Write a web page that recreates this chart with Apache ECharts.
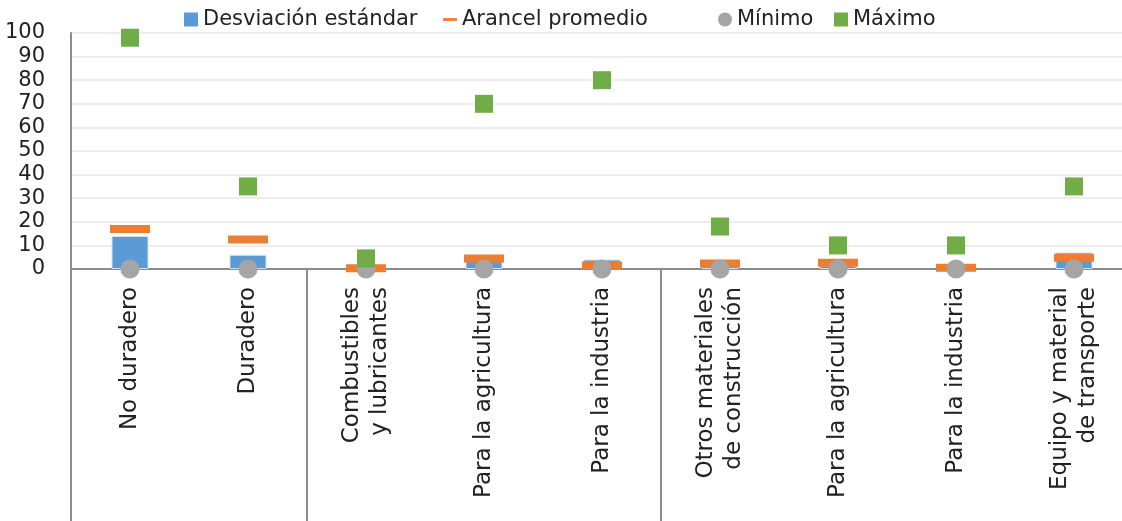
<!DOCTYPE html>
<html>
<head>
<meta charset="utf-8">
<script src="https://cdn.jsdelivr.net/npm/echarts@6/dist/echarts.min.js"></script>
<style>
  html, body { margin: 0; padding: 0; background: #fff; overflow: hidden; }
  /* el área del gráfico continúa un poco más allá del borde derecho (imagen recortada) */
  #chart { width: 1133px; height: 521px; }
</style>
</head>
<body>
<div id="chart"></div>
<script>
// categorías (eje x)
var categories = [
  "No duradero", "Duradero", "Combustibles\ny lubricantes",
  "Para la agricultura", "Para la industria", "Otros materiales\nde construcción",
  "Para la agricultura", "Para la industria", "Equipo y material\nde transporte"
];
// series
var seriesNames = ["Desviación estándar", "Arancel promedio", "Mínimo", "Máximo"];
var desviacion = [14, 6, 0, 3.5, 4, 1.5, 1.5, 0.5, 7];
var promedio = [17, 12.5, 0.3, 4.5, 1.5, 2.3, 2.7, 0.5, 4.8];
var minimo = [0, 0, 0, 0, 0, 0, 0, 0, 0];
var maximo = [98, 35, 4.5, 70, 80, 18, 10, 10, 35];
// límites de grupo (índices donde empieza cada grupo)
var groupStarts = [0, 2, 5];

var FONT = "DejaVu Sans";
var axisGray = "#8c8c8c";

var myChart = echarts.init(document.getElementById("chart"), null, { renderer: "canvas" });

// una leyenda por serie, para colocar cada elemento donde está en el original
var legendIcons = ["rect", "path://M0,0h20v4h-20z", "circle", "rect"];
var legendLeft = [184, 443, 718, 834];
var legends = seriesNames.map(function (name, i) {
  return {
    top: 9,
    left: legendLeft[i],
    padding: 0,
    itemWidth: 14,
    itemHeight: 14,
    itemStyle: { borderWidth: 0 },
    textStyle: { fontFamily: FONT, fontSize: 21, color: "#222" },
    data: [{ name: name, icon: legendIcons[i] }]
  };
});

var option = {
  animation: false,
  textStyle: { fontFamily: FONT, color: "#222" },
  legend: legends,
  grid: { left: 71, right: 0, top: 33, bottom: 252, containLabel: false },
  xAxis: {
    type: "category",
    data: categories,
    boundaryGap: true,
    axisLine: { lineStyle: { color: axisGray, width: 2 } },
    axisTick: {
      show: true,
      length: 252,
      interval: function (index) { return groupStarts.indexOf(index) >= 0; },
      lineStyle: { color: axisGray, width: 2 }
    },
    axisLabel: {
      interval: 0,
      rotate: 90,
      margin: 18,
      fontSize: 23,
      lineHeight: 28,
      color: "#222",
      fontFamily: FONT
    }
  },
  yAxis: {
    type: "value",
    min: 0,
    max: 100,
    interval: 10,
    axisLine: { show: true, lineStyle: { color: axisGray, width: 2 } },
    axisTick: { show: false },
    splitLine: { lineStyle: { color: "#ededed", width: 2 } },
    axisLabel: { fontSize: 21, color: "#222", margin: 26, fontFamily: FONT }
  },
  series: [
    {
      name: seriesNames[0],
      type: "bar",
      data: desviacion,
      barWidth: 37,
      itemStyle: { color: "#5B9BD5", borderColor: "#cfe1f2", borderWidth: 1 }
    },
    {
      name: seriesNames[1],
      type: "scatter",
      data: promedio,
      symbol: "rect",
      symbolSize: [40, 8],
      itemStyle: { color: "#ED7D31", opacity: 1 }
    },
    {
      name: seriesNames[2],
      type: "scatter",
      data: minimo,
      symbol: "circle",
      symbolSize: 19,
      itemStyle: { color: "#A5A5A5", opacity: 1 }
    },
    {
      name: seriesNames[3],
      type: "scatter",
      data: maximo,
      symbol: "rect",
      symbolSize: 18,
      itemStyle: { color: "#70AD47", opacity: 1 }
    }
  ]
};
myChart.setOption(option);
</script>
</body>
</html>
